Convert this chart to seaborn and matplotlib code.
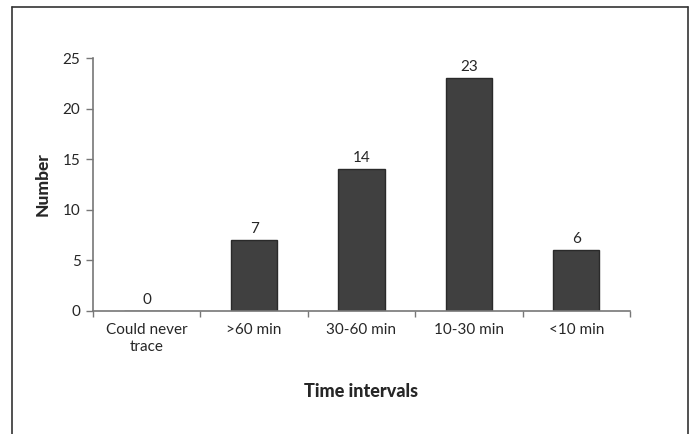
import numpy as np
import pandas as pd
import matplotlib
matplotlib.use("Agg")
import matplotlib.pyplot as plt
import seaborn as sns
from matplotlib.lines import Line2D

categories = ["Could never\ntrace", ">60 min", "30-60 min", "10-30 min", "<10 min"]
counts = [0, 7, 14, 23, 6]

sns.set_style("white")
plt.rcParams['font.family'] = ['Lato', 'DejaVu Sans']

df = pd.DataFrame({"interval": categories, "number": counts})

fig = plt.figure(figsize=(6.96, 4.34), dpi=100)
ax = fig.add_axes([93/696, 1 - 311/434, (630 - 93)/696, (311 - 58)/434])

sns.barplot(data=df, x="interval", y="number", color="#404040",
            edgecolor="#2a2a2a", linewidth=1.0, width=0.43, ax=ax,
            saturation=1)

ax.set_ylim(0, 25)
ax.set_xlim(-0.5, len(categories) - 0.5)
ax.set_yticks([0, 5, 10, 15, 20, 25])
ax.tick_params(axis="y", labelsize=11, length=5, width=1, color="#777777",
               direction="out", left=True, pad=4)
ax.tick_params(axis="x", which="major", length=0, labelsize=11, pad=9)
ax.set_xticks(np.arange(-0.5, len(categories)), minor=True)
ax.tick_params(axis="x", which="minor", length=4, width=1, color="#777777",
               direction="out", bottom=True)

for s in ["top", "right"]:
    ax.spines[s].set_visible(False)
for s in ["left", "bottom"]:
    ax.spines[s].set_color("#777777")
    ax.spines[s].set_linewidth(1.2)

ax.bar_label(ax.containers[0], labels=[str(v) for v in counts],
             padding=3, fontsize=11)

ax.set_ylabel("Number", fontsize=12.5, fontweight="black", labelpad=9)
ax.set_xlabel("Time intervals", fontsize=13, fontweight="black", labelpad=21)

# outer frame of the figure panel (bottom edge falls outside the image)
frame_kw = dict(color="#333333", linewidth=1.2, transform=fig.transFigure)
x0, x1, y1 = 12/696, 688/696, 1 - 7/434
fig.add_artist(Line2D([x0, x0], [-0.02, y1], **frame_kw))
fig.add_artist(Line2D([x0, x1], [y1, y1], **frame_kw))
fig.add_artist(Line2D([x1, x1], [-0.02, y1], **frame_kw))

fig.savefig("out.png", dpi=100)
